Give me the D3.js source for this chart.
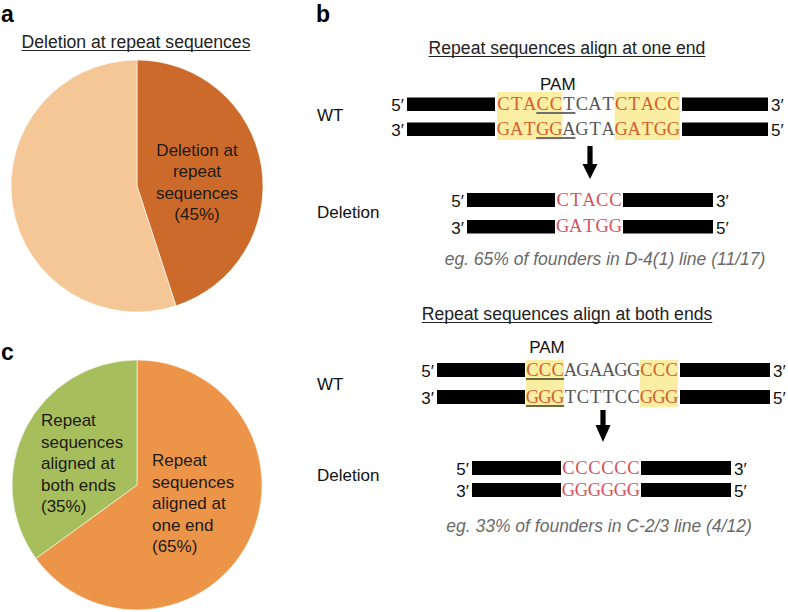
<!DOCTYPE html>
<html>
<head>
<meta charset="utf-8">
<script src="https://cdn.jsdelivr.net/npm/d3@7"></script>
<style>
  html, body { margin: 0; padding: 0; background: #fff; }
  svg { display: block; }
  text { font-family: "Liberation Sans", Arial, Helvetica, sans-serif; }
  text.mono { font-family: "Liberation Serif", "DejaVu Serif", serif; }
</style>
</head>
<body>
<svg id="chart" width="788" height="612"></svg>
<script>
// ---------------- DATA ----------------
const pieACategories = ["Deletion at repeat sequences", "Other deletions"];
const pieAValues = [45, 55];
const pieALabelLines = ["Deletion at", "repeat", "sequences", "(45%)"];

const pieCCategories = ["Repeat sequences aligned at one end", "Repeat sequences aligned at both ends"];
const pieCValues = [65, 35];
const pieCLabelOne = ["Repeat", "sequences", "aligned at", "one end", "(65%)"];
const pieCLabelBoth = ["Repeat", "sequences", "aligned at", "both ends", "(35%)"];

const oneEndWT = ["CTACCTCATCTACC", "GATGGAGTAGATGG"];
const oneEndRepeats = [[0, 5], [9, 14]];
const oneEndPAM = [3, 6];
const oneEndDel = ["CTACC", "GATGG"];
const oneEndCaption = "eg. 65% of founders in D-4(1) line (11/17)";

const bothEndsWT = ["CCCAGAAGGCCC", "GGGTCTTCCGGG"];
const bothEndsRepeats = [[0, 3], [9, 12]];
const bothEndsPAM = [0, 3];
const bothEndsDel = ["CCCCCC", "GGGGGG"];
const bothEndsCaption = "eg. 33% of founders in C-2/3 line (4/12)";

// ---------------- DRAW ----------------
const svg = d3.select("#chart");

function panelLetter(t, x, y) {
  svg.append("text").attr("x", x).attr("y", y).text(t)
    .attr("font-size", 23).attr("font-weight", "bold").attr("fill", "#000");
}
function underlinedTitle(t, cx, y, size) {
  const el = svg.append("text").attr("x", cx).attr("y", y).attr("text-anchor", "middle")
    .attr("font-size", size).attr("fill", "#222").text(t);
  const w = el.node().getComputedTextLength();
  svg.append("line").attr("x1", cx - w / 2).attr("x2", cx + w / 2)
    .attr("y1", y + 2.5).attr("y2", y + 2.5).attr("stroke", "#222").attr("stroke-width", 1.2);
}
function multiline(lines, x, y0, dy, anchor) {
  const t = svg.append("text").attr("font-size", 17).attr("fill", "#1e1a14").attr("text-anchor", anchor);
  lines.forEach((l, i) => t.append("tspan").attr("x", x).attr("y", y0 + i * dy).text(l));
}

// ---- Panel a ----
panelLetter("a", 1, 22);
underlinedTitle("Deletion at repeat sequences", 136, 48, 17.6);
const pie = d3.pie().sort(null).value(d => d);
{
  const g = svg.append("g").attr("transform", "translate(137,186)");
  const arc = d3.arc().innerRadius(0).outerRadius(126);
  const colors = ["#CC6A2C", "#F5C797"];
  g.selectAll("path").data(pie(pieAValues)).join("path")
    .attr("d", arc).attr("fill", (d, i) => colors[i])
    .attr("stroke", "#fff").attr("stroke-width", 0.6);
}
multiline(pieALabelLines, 197, 156, 21.3, "middle");

// ---- Panel c ----
panelLetter("c", 1, 360);
{
  const g = svg.append("g").attr("transform", "translate(137,485)");
  const arc = d3.arc().innerRadius(0).outerRadius(125);
  const colors = ["#EC9549", "#A6BE5B"];
  g.selectAll("path").data(pie(pieCValues)).join("path")
    .attr("d", arc).attr("fill", (d, i) => colors[i])
    .attr("stroke", "#fff").attr("stroke-width", 0.6);
}
multiline(pieCLabelBoth, 41, 426, 21.6, "start");
multiline(pieCLabelOne, 152, 466, 21.6, "start");

// ---- Panel b ----
panelLetter("b", 316, 22);

const REPEAT_COL = "#D35F30";
const MID_COL = "#555555";
const DEL_COL = "#D4525C";

function duplex(cfg) {
  const g = svg.append("g");
  const x = d3.scaleLinear().domain([0, cfg.seqs[0].length]).range([cfg.seqX0, cfg.seqX1]);
  const cw = x(1) - x(0);
  if (cfg.repeats) {
    cfg.repeats.forEach(r => {
      g.append("rect").attr("x", x(r[0])).attr("width", x(r[1]) - x(r[0]))
        .attr("y", cfg.boxY[0]).attr("height", cfg.boxY[1] - cfg.boxY[0])
        .attr("fill", "#F9EEA2");
    });
  }
  cfg.rows.forEach((row, ri) => {
    g.append("rect").attr("x", cfg.barL[0]).attr("width", cfg.barL[1] - cfg.barL[0])
      .attr("y", row[0]).attr("height", row[1] - row[0]).attr("fill", "#000");
    g.append("rect").attr("x", cfg.barR[0]).attr("width", cfg.barR[1] - cfg.barR[0])
      .attr("y", row[0]).attr("height", row[1] - row[0]).attr("fill", "#000");
    g.append("text").attr("x", cfg.barL[0] - 3).attr("y", row[1]).attr("text-anchor", "end")
      .attr("font-size", 17).attr("fill", "#111").text(ri === 0 ? "5\u2032" : "3\u2032");
    g.append("text").attr("x", cfg.barR[1] + 3).attr("y", row[1])
      .attr("font-size", 17).attr("fill", "#111").text(ri === 0 ? "3\u2032" : "5\u2032");
    const chars = cfg.seqs[ri].split("");
    g.selectAll(null).data(chars).join("text")
      .attr("class", "mono")
      .attr("x", (c, i) => x(i) + cw / 2).attr("y", row[1] - 1.5)
      .attr("text-anchor", "middle").attr("font-size", 18.5)
      .attr("fill", (c, i) => {
        if (!cfg.repeats) return DEL_COL;
        return cfg.repeats.some(r => i >= r[0] && i < r[1]) ? REPEAT_COL : MID_COL;
      })
      .text(c => c);
    if (cfg.pam) {
      g.append("line").attr("x1", x(cfg.pam[0])).attr("x2", x(cfg.pam[1]))
        .attr("y1", row[1] + 2).attr("y2", row[1] + 2)
        .attr("stroke", cfg.pamColor).attr("stroke-width", 2);
    }
  });
  if (cfg.pam) {
    g.append("text").attr("x", (x(cfg.pam[0]) + x(cfg.pam[1])) / 2 + (cfg.pamShift || 0))
      .attr("y", cfg.pamY).attr("text-anchor", "middle").attr("font-size", 17)
      .attr("fill", "#111").text("PAM");
  }
}

function arrow(cx, y0, yHead, yTip) {
  svg.append("rect").attr("x", cx - 2.6).attr("width", 5.2).attr("y", y0).attr("height", yHead - y0 + 1).attr("fill", "#000");
  svg.append("path").attr("d", `M${cx - 7.5},${yHead}L${cx + 7.5},${yHead}L${cx},${yTip}Z`).attr("fill", "#000");
}
function sideLabel(t, y) {
  svg.append("text").attr("x", 317).attr("y", y).attr("font-size", 17).attr("fill", "#111").text(t);
}
function caption(t, cx, y) {
  svg.append("text").attr("x", cx).attr("y", y).attr("text-anchor", "middle")
    .attr("font-size", 17.5).attr("font-style", "italic").attr("fill", "#6a6a6a").text(t);
}

// one-end
underlinedTitle("Repeat sequences align at one end", 567, 54, 17.6);
sideLabel("WT", 121);
duplex({ seqs: oneEndWT, seqX0: 497, seqX1: 680, barL: [407, 495], barR: [682, 768],
  rows: [[97.5, 111], [122.5, 136]], repeats: oneEndRepeats, boxY: [92, 140],
  pam: oneEndPAM, pamColor: "#6f6f6f", pamY: 90, pamShift: 2 });
arrow(590, 146, 164, 179);
sideLabel("Deletion", 218);
duplex({ seqs: oneEndDel, seqX0: 556, seqX1: 622, barL: [467, 555], barR: [623, 713],
  rows: [[193, 207], [220, 233.5]] });
caption(oneEndCaption, 605, 265);

// both-ends
underlinedTitle("Repeat sequences align at both ends", 567, 320, 17.6);
sideLabel("WT", 390);
duplex({ seqs: bothEndsWT, seqX0: 526, seqX1: 678, barL: [437, 525], barR: [680, 770],
  rows: [[363, 377], [390, 404]], repeats: bothEndsRepeats, boxY: [360, 407],
  pam: bothEndsPAM, pamColor: "#6b6a3c", pamY: 353, pamShift: 2 });
arrow(603, 410, 425, 442);
sideLabel("Deletion", 481);
duplex({ seqs: bothEndsDel, seqX0: 562, seqX1: 640, barL: [472, 561], barR: [641, 731],
  rows: [[461, 475], [483, 497]] });
caption(bothEndsCaption, 599, 532);
</script>
</body>
</html>
